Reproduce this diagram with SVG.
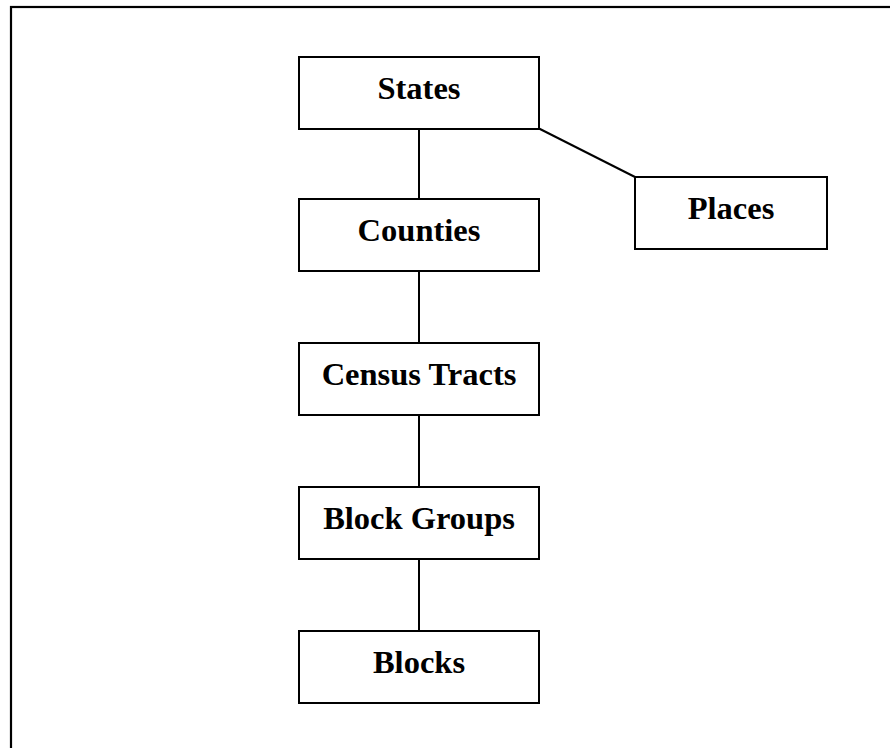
<svg xmlns="http://www.w3.org/2000/svg" width="890" height="748" viewBox="0 0 890 748">
<style>
.box{fill:#fff;stroke:#000;stroke-width:2}
.lbl{font-family:"Liberation Serif","Times New Roman",serif;font-weight:bold;font-size:32.5px;text-anchor:middle;fill:#000}
.conn line{stroke:#000;stroke-width:2}
</style>
<rect x="0" y="0" width="890" height="748" fill="#fff"/>
<rect x="11" y="7" width="900" height="800" fill="none" stroke="#000" stroke-width="2.2"/>
<g id="connectors" class="conn">
<line x1="419" y1="129" x2="419" y2="199"/>
<line x1="419" y1="271" x2="419" y2="343"/>
<line x1="419" y1="415" x2="419" y2="487"/>
<line x1="419" y1="559" x2="419" y2="631"/>
<line x1="539" y1="128.5" x2="635" y2="177"/>
</g>
<g id="states"><rect class="box" x="299" y="57" width="240" height="72"/><text class="lbl" x="419" y="99">States</text></g>
<g id="places"><rect class="box" x="635" y="177" width="192" height="72"/><text class="lbl" x="731" y="219">Places</text></g>
<g id="counties"><rect class="box" x="299" y="199" width="240" height="72"/><text class="lbl" x="419" y="241">Counties</text></g>
<g id="census-tracts"><rect class="box" x="299" y="343" width="240" height="72"/><text class="lbl" x="419" y="385">Census Tracts</text></g>
<g id="block-groups"><rect class="box" x="299" y="487" width="240" height="72"/><text class="lbl" x="419" y="529">Block Groups</text></g>
<g id="blocks"><rect class="box" x="299" y="631" width="240" height="72"/><text class="lbl" x="419" y="673">Blocks</text></g>
</svg>
